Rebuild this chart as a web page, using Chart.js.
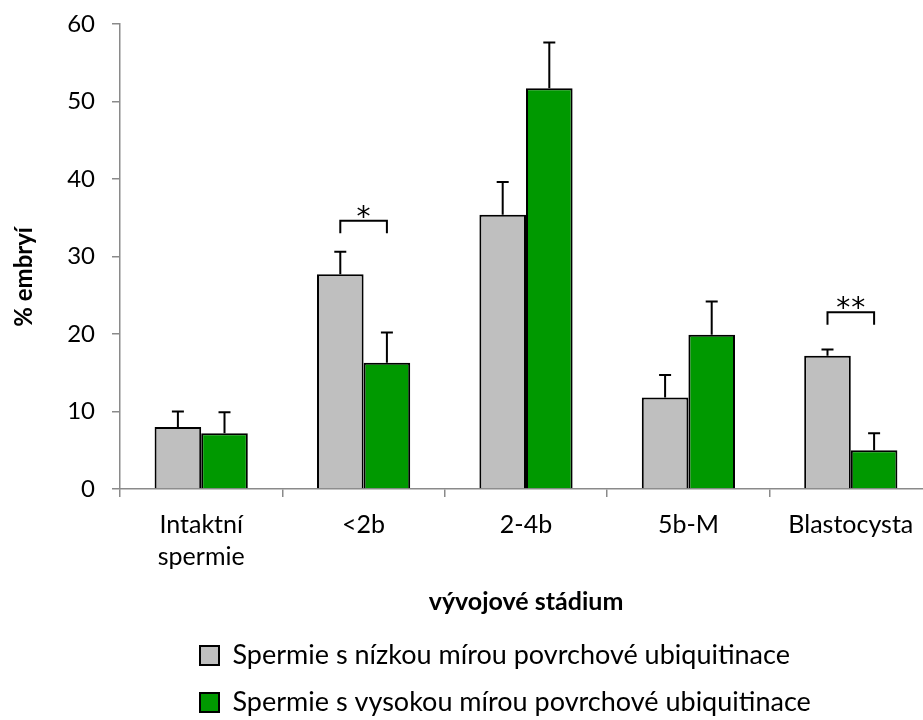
<!DOCTYPE html>
<html>
<head>
<meta charset="utf-8">
<script src="https://cdn.jsdelivr.net/npm/chart.js@4.4.1/dist/chart.umd.min.js"></script>
<style>
html, body { margin: 0; padding: 0; background: #fff; overflow: hidden; }
#wrap { position: relative; width: 933px; height: 726px; }
</style>
</head>
<body>
<div id="wrap"><canvas id="chart"></canvas></div>
<script>
'use strict';

// Data
const categories = [['Intaktní', 'spermie'], '<2b', '2-4b', '5b-M', 'Blastocysta'];
const seriesNames = [
    'Spermie s nízkou mírou povrchové ubiquitinace',
    'Spermie s vysokou mírou povrchové ubiquitinace'
];
const lowValues = [8.0, 27.7, 35.4, 11.8, 17.2];
const lowErrors = [2.0, 2.9, 4.2, 2.9, 0.8];
const highValues = [7.2, 16.3, 51.7, 19.9, 5.0];
const highErrors = [2.7, 3.9, 5.9, 4.3, 2.2];
const yTicks = [0, 10, 20, 30, 40, 50, 60];

// significance brackets: category index, label, bracket top, leg bottom
const sigCategory = [1, 4];
const sigLabel = ['*', '**'];
const sigTop = [34.6, 22.8];
const sigLeg = [33.0, 21.2];

const fontFamily = 'Lato, "Open Sans", sans-serif';
const axisColor = '#8a8a8a';
const plotBottom = 489;

// error bars + significance marks, positioned through the chart scales
const annotationPlugin = {
    id: 'errorBarsAndSig',
    afterLayout(chart) {
        // legend rows start under the plot, not at the canvas edge
        chart.legend.left = 180;
    },
    afterDatasetsDraw(chart) {
        const ctx = chart.ctx;
        const yScale = chart.scales.y;
        ctx.save();
        ctx.strokeStyle = '#000';
        ctx.lineWidth = 2;

        chart.data.datasets.forEach((ds, di) => {
            const meta = chart.getDatasetMeta(di);
            meta.data.forEach((bar, i) => {
                const yTop = yScale.getPixelForValue(ds.data[i] + ds.errors[i]);
                const yBase = yScale.getPixelForValue(ds.data[i]);
                ctx.beginPath();
                ctx.moveTo(bar.x, yBase);
                ctx.lineTo(bar.x, yTop);
                ctx.moveTo(bar.x - 6, yTop);
                ctx.lineTo(bar.x + 6, yTop);
                ctx.stroke();
            });
        });

        const lowMeta = chart.getDatasetMeta(0);
        const highMeta = chart.getDatasetMeta(1);
        ctx.fillStyle = '#000';
        ctx.font = '28px "DejaVu Sans", sans-serif';
        ctx.textAlign = 'center';
        ctx.textBaseline = 'alphabetic';
        sigCategory.forEach((ci, k) => {
            const x1 = lowMeta.data[ci].x;
            const x2 = highMeta.data[ci].x;
            const yt = yScale.getPixelForValue(sigTop[k]);
            const yl = yScale.getPixelForValue(sigLeg[k]);
            ctx.beginPath();
            ctx.moveTo(x1, yl);
            ctx.lineTo(x1, yt);
            ctx.lineTo(x2, yt);
            ctx.lineTo(x2, yl);
            ctx.stroke();
            const chars = sigLabel[k].split('');
            const step = 15;
            const x0 = (x1 + x2) / 2 - (chars.length - 1) * step / 2;
            chars.forEach((c, j) => ctx.fillText(c, x0 + j * step, yt + 5));
        });
        ctx.restore();
    }
};

const chart = new Chart(document.getElementById('chart'), {
    type: 'bar',
    data: {
        labels: categories,
        datasets: [
            {
                label: seriesNames[0],
                data: lowValues,
                errors: lowErrors,
                backgroundColor: '#bfbfbf',
                borderColor: '#000',
                borderWidth: 2,
                categoryPercentage: 0.574,
                barPercentage: 1.0
            },
            {
                label: seriesNames[1],
                data: highValues,
                errors: highErrors,
                backgroundColor: '#009900',
                borderColor: '#000',
                borderWidth: 2,
                categoryPercentage: 0.574,
                barPercentage: 1.0
            }
        ]
    },
    options: {
        responsive: true,
        maintainAspectRatio: false,
        animation: false,
        layout: {
            padding: { top: 24, right: 1, left: 0, bottom: 0 }
        },
        plugins: {
            tooltip: { enabled: false },
            legend: {
                position: 'bottom',
                align: 'start',
                labels: {
                    color: '#000',
                    font: { family: fontFamily, size: 27 },
                    boxWidth: 19,
                    boxHeight: 19,
                    padding: 20
                }
            }
        },
        scales: {
            x: {
                grid: {
                    display: true,
                    drawOnChartArea: false,
                    drawTicks: true,
                    tickLength: 8,
                    color: axisColor,
                    lineWidth: 1.5
                },
                border: { color: axisColor, width: 1.5 },
                ticks: {
                    color: '#000',
                    padding: 12,
                    maxRotation: 0,
                    autoSkip: false,
                    font: { family: fontFamily, size: 25, lineHeight: 1.28 }
                },
                title: {
                    display: true,
                    text: 'vývojové stádium',
                    color: '#000',
                    font: { family: fontFamily, size: 25, weight: 'bold' },
                    padding: { top: 0, bottom: 5 }
                },
                afterFit(scale) {
                    scale.height = scale.chart.height - scale.chart.legend.height - plotBottom;
                    scale.paddingLeft = 0;
                    scale.paddingRight = 0;
                }
            },
            y: {
                min: 0,
                max: 60,
                afterBuildTicks(scale) {
                    scale.ticks = yTicks.map(v => ({ value: v }));
                },
                grid: {
                    display: true,
                    drawOnChartArea: false,
                    drawTicks: true,
                    tickLength: 8,
                    color: axisColor,
                    lineWidth: 1.5
                },
                border: { color: axisColor, width: 1.5 },
                ticks: {
                    color: '#000',
                    padding: 17,
                    font: { family: fontFamily, size: 24 }
                },
                title: {
                    display: true,
                    text: '% embryí       ',
                    color: '#000',
                    font: { family: fontFamily, size: 24, weight: 'bold' },
                    padding: { top: 10, bottom: 0 }
                },
                afterFit(scale) {
                    scale.width = 120;
                    scale.paddingTop = 0;
                    scale.paddingBottom = 0;
                }
            }
        }
    },
    plugins: [annotationPlugin]
});
</script>
</body>
</html>
